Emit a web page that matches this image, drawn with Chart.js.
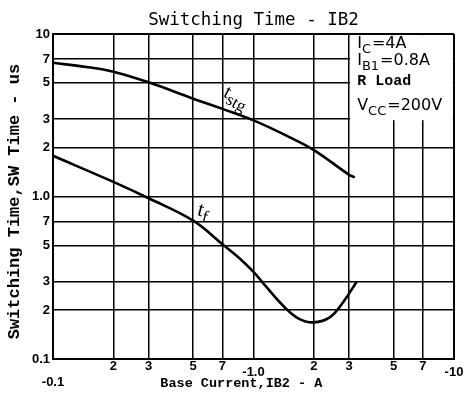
<!DOCTYPE html>
<html><head><meta charset="utf-8">
<script src="https://cdn.jsdelivr.net/npm/chart.js@4.4.1/dist/chart.umd.min.js"></script>
<style>html,body{margin:0;padding:0;background:#fff}#wrap{width:465px;height:401px;position:relative}</style>
</head><body><div id="wrap"><canvas id="c" width="465" height="401"></canvas></div>
<script>
// ---- data ----
const tickValues = [0.1, 0.2, 0.3, 0.5, 0.7, 1, 2, 3, 5, 7, 10];
const xTickLabels = ['-0.1', '2', '3', '5', '7', '-1.0', '2', '3', '5', '7', '-10'];
const yTickLabels = ['0.1', '2', '3', '5', '7', '1.0', '2', '3', '5', '7', '10'];
const tstgX = [0.1, 0.15, 0.2, 0.3, 0.5, 0.7, 1.0, 1.5, 2, 3, 3.2];
const tstgY = [6.65, 6.24, 5.86, 5.04, 4.0, 3.46, 2.94, 2.33, 1.93, 1.36, 1.31];
const tfX = [0.1, 0.2, 0.3, 0.5, 0.707, 0.84, 1.0, 1.12, 1.41, 1.67, 1.99, 2.41, 2.81, 3.27];
const tfY = [1.78, 1.23, 0.975, 0.71, 0.503, 0.423, 0.344, 0.292, 0.212, 0.178, 0.168, 0.181, 0.225, 0.299];
const titleText = 'Switching Time - IB2';
const xTitle = 'Base Current,IB2 - A';
const yTitle = 'Switching Time,SW Time - us';
const noteLines = [
  [{t: 'I'}, {t: 'C', sub: true}, {t: '=4A'}],
  [{t: 'I'}, {t: 'B1', sub: true}, {t: '=0.8A'}],
  [{t: 'R Load', bold: true}],
  [{t: 'V'}, {t: 'CC', sub: true}, {t: '=200V'}]
];
const curveLabels = [
  {main: 't', sub: 'stg', x: 0.7, y: 4.15, rot: 28, size: 20, subSize: 17},
  {main: 't', sub: 'f', x: 0.52, y: 0.77, rot: 15, size: 21, subSize: 17}
];
const noteBox = {x: 3, y: 3};

// ---- plugin for note box and curve labels ----
function drawRich(ctx, x, y, parts) {
  let cx = x;
  parts.forEach(p => {
    if (p.sub) {
      ctx.font = '13px "DejaVu Sans"';
      ctx.fillText(p.t, cx, y + 5);
      cx += ctx.measureText(p.t).width + 1;
    } else if (p.bold) {
      ctx.font = 'bold 15px "Liberation Mono"';
      ctx.fillText(p.t, cx, y);
      cx += ctx.measureText(p.t).width;
    } else {
      ctx.font = '16px "DejaVu Sans"';
      ctx.fillText(p.t, cx, y);
      cx += ctx.measureText(p.t).width;
    }
  });
}
const notesPlugin = {
  id: 'notes',
  beforeDatasetsDraw(chart) {
    const {ctx, chartArea: a, scales: {x, y}} = chart;
    const bx = x.getPixelForValue(noteBox.x);
    const by = y.getPixelForValue(noteBox.y);
    ctx.save();
    ctx.fillStyle = '#fff';
    ctx.fillRect(bx + 1, a.top + 1.2, a.right - bx - 2.2, by - a.top);
    ctx.restore();
  },
  afterDatasetsDraw(chart) {
    const {ctx, chartArea: a, scales: {x, y}} = chart;
    const bx = x.getPixelForValue(noteBox.x);
    ctx.save();
    ctx.fillStyle = '#000';
    ctx.textBaseline = 'alphabetic';
    const baseY = [14, 31, 51, 76];
    noteLines.forEach((line, i) => drawRich(ctx, bx + 8, a.top + baseY[i], line));
    curveLabels.forEach(l => {
      const px = x.getPixelForValue(l.x), py = y.getPixelForValue(l.y);
      ctx.save();
      ctx.translate(px, py);
      ctx.rotate(l.rot * Math.PI / 180);
      ctx.font = l.size + 'px "Liberation Serif"';
      ctx.fillText(l.main, 0, 0);
      const w = ctx.measureText(l.main).width;
      ctx.font = l.subSize + 'px "Liberation Serif"';
      ctx.fillText(l.sub, w, 5);
      ctx.restore();
    });
    ctx.restore();
  }
};

const gridW = c => (c.index === 0 || c.index === tickValues.length - 1) ? 2 : 1.5;
const xLabelLH = ['15px', '12px', '12px', '12px', '12px', '8px', '12px', '12px', '12px', '12px', '8px'];

new Chart(document.getElementById('c'), {
  type: 'line',
  data: {
    datasets: [
      {label: 'tstg', data: tstgX.map((v, i) => ({x: v, y: tstgY[i]})),
       borderColor: '#000', borderWidth: 2.6, pointRadius: 0, tension: 0.4, fill: false},
      {label: 'tf', data: tfX.map((v, i) => ({x: v, y: tfY[i]})),
       borderColor: '#000', borderWidth: 2.6, pointRadius: 0, tension: 0.4, fill: false}
    ]
  },
  options: {
    responsive: false,
    animation: false,
    devicePixelRatio: 1,
    layout: {padding: {left: 0, right: 11, top: 0, bottom: 0}},
    plugins: {
      legend: {display: false},
      tooltip: {enabled: false},
      title: {display: true, text: titleText, fullSize: false, color: '#000',
        font: {family: '"DejaVu Sans Mono"', size: 17.5, weight: 'normal', lineHeight: 1.2},
        padding: {top: 10, bottom: 3}}
    },
    scales: {
      x: {
        type: 'logarithmic', min: 0.1, max: 10,
        afterBuildTicks: s => { s.ticks = tickValues.map(v => ({value: v})); },
        afterFit: s => { s.height = 42; },
        grid: {color: '#000', lineWidth: gridW, drawTicks: false},
        border: {display: true, color: '#000', width: 2},
        ticks: {
          autoSkip: false, maxRotation: 0, padding: 1, color: '#000',
          callback: (v, i) => (i === 0 || i === 5 || i === 10) ? ['', xTickLabels[i]] : xTickLabels[i],
          font: c => ({family: '"Liberation Sans"', size: 13, weight: 'bold', lineHeight: xLabelLH[c.index] || '12px'})
        },
        title: {display: true, text: xTitle + '   ', color: '#000',
          font: {family: '"Liberation Mono"', size: 13.5, weight: 'bold', lineHeight: 1.2},
          padding: {top: 0, bottom: 9}}
      },
      y: {
        type: 'logarithmic', min: 0.1, max: 10,
        afterBuildTicks: s => { s.ticks = tickValues.map(v => ({value: v})); },
        afterFit: s => { s.width = 53; },
        grid: {color: '#000', lineWidth: gridW, drawTicks: false},
        border: {display: true, color: '#000', width: 2},
        ticks: {
          autoSkip: false, padding: 3, color: '#000',
          callback: (v, i) => yTickLabels[i],
          font: {family: '"Liberation Sans"', size: 13, weight: 'bold'}
        },
        title: {display: true, text: yTitle + ' ', color: '#000',
          font: {family: '"Liberation Mono"', size: 17, weight: 'bold', lineHeight: 1.2},
          padding: {top: 5, bottom: 0}}
      }
    }
  },
  plugins: [notesPlugin]
});
</script>
</body></html>
